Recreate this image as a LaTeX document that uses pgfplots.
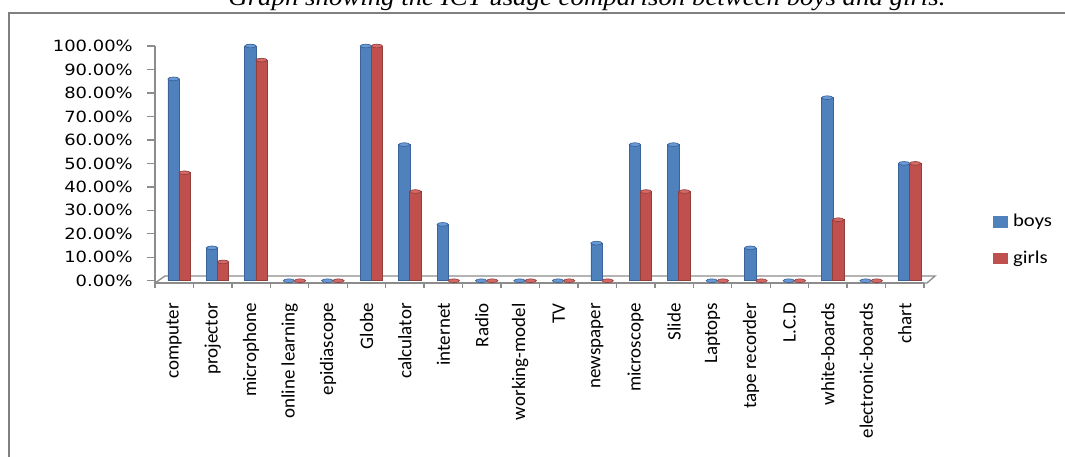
\documentclass[border=0pt]{standalone}
\usepackage{pgfplots}
\pgfplotsset{compat=1.18}
\usetikzlibrary{shapes.geometric}
\usepackage{fontspec}
\setmainfont{Carlito}
\newfontfamily\ytfont[FakeStretch=1.16]{DejaVu Sans}
\newfontfamily\legfont[FakeStretch=1.15]{Carlito}
\newfontfamily\titfont[FakeStretch=1.1]{Liberation Serif}
\definecolor{bM}{HTML}{4F81BD}
\definecolor{bL}{HTML}{6A9AD6}
\definecolor{bD}{HTML}{3A6399}
\definecolor{rM}{HTML}{C0504D}
\definecolor{rL}{HTML}{D46A67}
\definecolor{rD}{HTML}{943E3B}
\definecolor{axgray}{HTML}{8C8C8C}
\begin{document}
\begin{tikzpicture}
\useasboundingbox (0,0) rectangle (798.75pt,-342.75pt);
\begin{scope}[x=0.75pt,y=-0.75pt]
\node[font=\titfont\itshape\fontsize{18.3}{21}\selectfont, anchor=base, inner sep=0pt] at (587,5) {Graph showing the ICT usage comparison between boys and girls.};
\draw[gray, line width=1.3pt] (9,480) -- (9,13) -- (1090,13);
\draw[axgray, line width=1pt] (155,283) -- (165,276) -- (935,276) -- (927,283) -- (155,283);
\end{scope}
\begin{axis}[
  at={(116.25pt,-212.25pt)}, anchor=south west,
  x=28.8375pt, y=1.76pt,
  xmin=-0.5, xmax=19.5, ymin=-0.98, ymax=100,
  axis x line*=bottom, axis y line*=left,
  axis line style={draw=axgray, line width=1pt, -},
  ybar, bar width=8.5pt,
  xtick={0,...,19},
  xticklabels={computer,projector,microphone,online learning,epidiascope,Globe,calculator,internet,Radio,working-model,TV,newspaper,microscope,Slide,Laptops,tape recorder,L.C.D,white-boards,electronic-boards,chart},
  minor xtick={-0.5,0.5,...,19.5},
  major x tick style={draw=none},
  minor x tick style={draw=axgray, line width=1pt},
  minor tick length=3.75pt,
  ytick={0,10,...,100},
  yticklabels={0.00\%,10.00\%,20.00\%,30.00\%,40.00\%,50.00\%,60.00\%,70.00\%,80.00\%,90.00\%,100.00\%},
  y tick style={draw=axgray, line width=1pt},
  major tick length=6pt,
  tick align=outside,
  xticklabel style={rotate=90, anchor=east, inner sep=0pt, font=\fontsize{14.25}{16}\selectfont, xshift=-9pt},
  yticklabel style={font=\ytfont\fontsize{11.6}{13}\selectfont, inner sep=0pt, xshift=-10.5pt},
  legend style={at={(1.0897,0.1806)}, anchor=west, draw=none, fill=none, inner sep=0pt,
    font=\legfont\fontsize{13.5}{15}\selectfont, row sep=14.2pt,
    nodes={inner sep=0pt, text height=10pt, text depth=3pt},
    /tikz/every odd column/.append style={column sep=4.5pt}},
  legend cell align=left,
  clip=false,
  nodes near coords={\relax},
]
\addplot[forget plot, bar shift=-0.5pt, fill=bM, draw=bD, line width=0.5pt,
  every node near coord/.style={ellipse, fill=bL, draw=bD, line width=0.5pt, minimum width=8.5pt, minimum height=2.8pt, inner sep=0pt, anchor=center, xshift=-0.5pt}]
  coordinates {(0,86) (1,14) (2,100) (3,0) (4,0) (5,100) (6,58) (7,24) (8,0) (9,0) (10,0) (11,16) (12,58) (13,58) (14,0) (15,14) (16,0) (17,78) (18,0) (19,50)};
\addplot[forget plot, bar shift=7.8pt, fill=rM, draw=rD, line width=0.5pt,
  every node near coord/.style={ellipse, fill=rL, draw=rD, line width=0.5pt, minimum width=8.5pt, minimum height=2.8pt, inner sep=0pt, anchor=center, xshift=7.8pt}]
  coordinates {(0,46) (1,8) (2,94) (3,0) (4,0) (5,100) (6,38) (7,0) (8,0) (9,0) (10,0) (11,0) (12,38) (13,38) (14,0) (15,0) (16,0) (17,26) (18,0) (19,50)};
\addlegendimage{legend image code/.code={\fill[bM] (0pt,-4pt) rectangle (10pt,4pt);}}
\addlegendentry{boys}
\addlegendimage{legend image code/.code={\fill[rM] (0pt,-4pt) rectangle (10pt,4pt);}}
\addlegendentry{girls}
\end{axis}
\end{tikzpicture}
\end{document}
